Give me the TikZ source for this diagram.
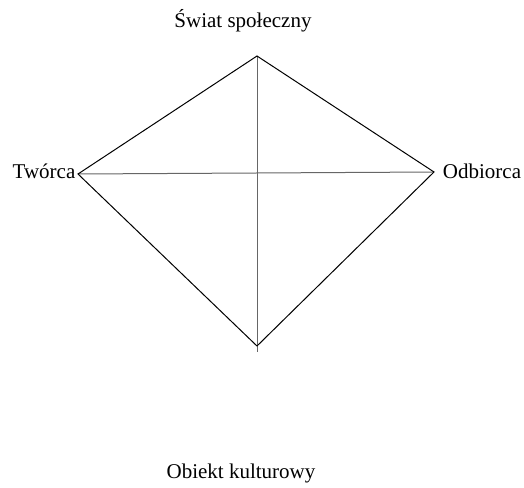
\documentclass[tikz,border=0pt]{standalone}
\usepackage{fontspec}
\setmainfont{Liberation Serif}
\begin{document}
\begin{tikzpicture}[x=1pt,y=-1pt,
  lbl/.style={anchor=base,inner sep=0pt,font=\fontsize{21}{25}\selectfont},
  edge/.style={draw=black,line width=1pt},
  axis/.style={draw=black!60,line width=1pt}]
\useasboundingbox (0,0) rectangle (524,487);
\coordinate (T) at (257,56);
\coordinate (L) at (78,174);
\coordinate (R) at (434,172);
\coordinate (B) at (257,346);
\coordinate (Bx) at (257,352);
\node[lbl] (lt) at (243,28) {Świat społeczny};
\node[lbl] (ll) at (44,178) {Twórca};
\node[lbl] (lr) at (482,178) {Odbiorca};
\node[lbl] (lb) at (241,478) {Obiekt kulturowy};
\draw[axis] (T) -- (Bx);
\draw[axis] (L) -- (R);
\draw[edge] (T) -- (L) -- (B) -- (R) -- cycle;
\end{tikzpicture}
\end{document}
